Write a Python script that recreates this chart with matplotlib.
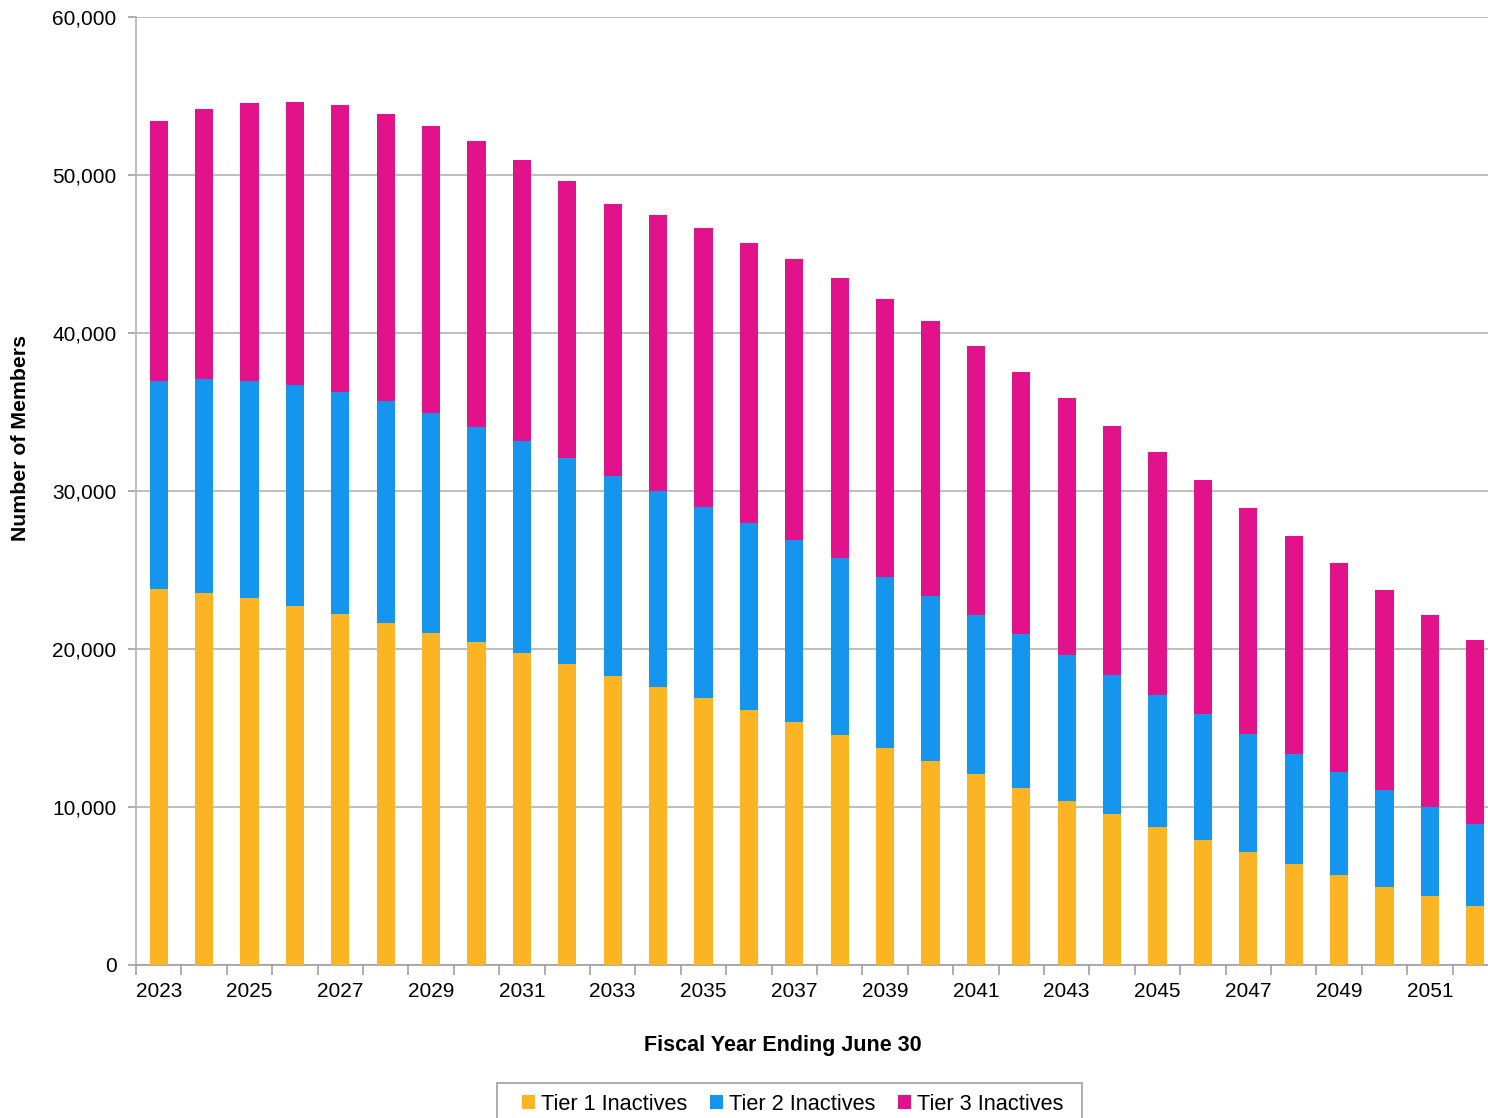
import numpy as np
import matplotlib.pyplot as plt
from matplotlib.patches import Rectangle
from matplotlib.ticker import FuncFormatter, FixedLocator

plt.rcParams['font.family'] = ['Liberation Sans', 'DejaVu Sans']

# Projected inactive membership by tier
years = list(range(2023, 2053))
tier1 = [23800, 23560, 23210, 22720, 22220, 21650, 21030, 20420, 19750, 19050,
         18290, 17600, 16900, 16140, 15380, 14560, 13730, 12910, 12090, 11220,
         10380, 9580, 8730, 7930, 7130, 6390, 5680, 4960, 4370, 3750]
tier2 = [13160, 13530, 13750, 13990, 14050, 14050, 13910, 13630, 13410, 13040,
         12660, 12400, 12090, 11830, 11520, 11200, 10830, 10440, 10060, 9730,
         9240, 8770, 8360, 7960, 7490, 6960, 6540, 6120, 5630, 5170]
tier3 = [16460, 17090, 17600, 17910, 18160, 18160, 18160, 18100, 17790, 17530,
         17220, 17470, 17660, 17730, 17780, 17720, 17590, 17410, 17030, 16580,
         16270, 15760, 15380, 14810, 14300, 13800, 13230, 12650, 12150, 11650]
labels = ["Tier 1 Inactives", "Tier 2 Inactives", "Tier 3 Inactives"]
colors = ["#FBB424", "#1496EE", "#E2128A"]

W, H = 1488, 1118
fig = plt.figure(figsize=(W / 100, H / 100), dpi=100)
# plot area runs slightly past the right edge of the canvas
ax = fig.add_axes([136 / W, 1 - 965 / H, (1498 - 136) / W, (965 - 17) / H])

x = np.arange(len(years))
t1 = np.array(tier1)
t2 = np.array(tier2)
t3 = np.array(tier3)
w = 0.4
ax.bar(x, t1, width=w, color=colors[0], label=labels[0], zorder=3)
ax.bar(x, t2, width=w, bottom=t1, color=colors[1], label=labels[1], zorder=3)
ax.bar(x, t3, width=w, bottom=t1 + t2, color=colors[2], label=labels[2], zorder=3)

ax.set_xlim(-0.5, len(years) - 0.5)
ax.set_ylim(0, 60000)
ax.set_yticks(range(0, 60001, 10000))
ax.yaxis.set_major_formatter(FuncFormatter(lambda v, p: f"{int(v):,}"))
ax.grid(axis='y', color='#b3b3b3', linewidth=1.2, zorder=0)

# boundary ticks between years, labels on every other year
ax.xaxis.set_major_locator(FixedLocator(np.arange(-0.5, len(years), 1.0)))
ax.xaxis.set_major_formatter(FuncFormatter(lambda v, p: ""))
ax.xaxis.set_minor_locator(FixedLocator(x[::2]))
ax.set_xticklabels([str(y) for y in years[::2]], minor=True)
ax.tick_params(axis='x', which='major', length=7, color='#a0a0a0', width=1.2)
ax.tick_params(axis='x', which='minor', length=0, labelsize=15, pad=12)
ax.tick_params(axis='y', length=6, color='#a0a0a0', width=1.2, labelsize=15, pad=8)

for s in ['top', 'right']:
    ax.spines[s].set_visible(False)
ax.spines['left'].set_color('#b3b3b3')
ax.spines['bottom'].set_color('#a0a0a0')
ax.spines['left'].set_linewidth(1.2)
ax.spines['bottom'].set_linewidth(1.2)

fig.text(783 / W, 1 - 1046 / H, "Fiscal Year Ending June 30",
         ha='center', va='center', fontsize=15.5, fontweight='bold')
fig.text(21 / W, 1 - 438 / H, "Number of Members", rotation=90,
         ha='center', va='center', fontsize=15.3, fontweight='bold')

# legend entries, with a separate box drawn around them
fig.legend(loc='center', bbox_to_anchor=(793 / W, 1 - 1104 / H),
           ncol=3, frameon=False, fontsize=15.7,
           handlelength=0.6, handleheight=0.6, handletextpad=0.28,
           columnspacing=1.03, borderpad=0, borderaxespad=0)
fig.patches.append(Rectangle((497 / W, 1 - 1125 / H), (1082 - 497) / W, 42 / H,
                             transform=fig.transFigure, fill=False,
                             edgecolor='#a0a0a0', linewidth=1.2, clip_on=False))

fig.savefig("out.png", dpi=100)
